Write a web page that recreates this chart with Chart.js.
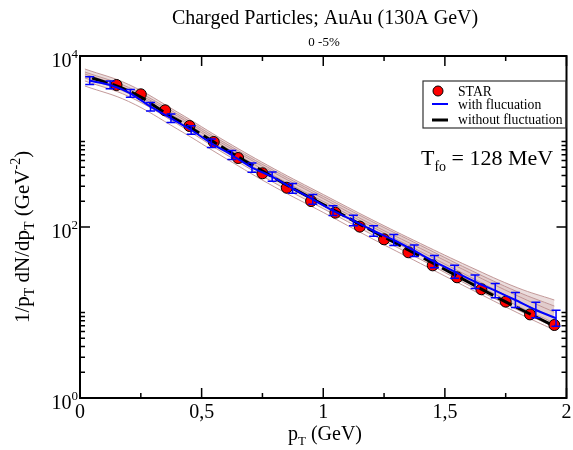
<!DOCTYPE html>
<html>
<head>
<meta charset="utf-8">
<script src="https://cdn.jsdelivr.net/npm/chart.js@4.4.1/dist/chart.umd.min.js"></script>
<style>
  html, body { margin: 0; padding: 0; background: #fff; }
  #wrap { width: 573px; height: 450px; }
</style>
</head>
<body>
<div id="wrap"><canvas id="c" width="573" height="450"></canvas></div>
<script>
// STAR charged particles, AuAu 130A GeV, 0-5%
const starPt = [0.15, 0.25, 0.35, 0.45, 0.55, 0.65, 0.75, 0.85, 0.95, 1.05,
  1.15, 1.25, 1.35, 1.45, 1.55, 1.65, 1.75, 1.85, 1.95];
const starVal = [4580, 3565, 2317, 1518, 987, 641, 425, 288, 201, 147,
  101, 71.8, 50.6, 35.6, 25.8, 18.7, 13.4, 9.5, 7.14];

// with fluctuation (blue, with error bars in %)
const flucPt = [0.04, 0.124, 0.207, 0.29, 0.374, 0.457, 0.54, 0.624, 0.707, 0.79,
  0.874, 0.957, 1.04, 1.124, 1.207, 1.29, 1.374, 1.457, 1.54, 1.624,
  1.707, 1.79, 1.874, 1.957];
const flucVal = [5140, 4580, 3660, 2553, 1868, 1363, 952, 695, 495, 388,
  283, 211, 155, 119, 89.8, 70.5, 52.8, 39.3, 30, 22.9,
  18, 14, 10.7, 8.55];
const flucErr = [11, 11, 11, 12, 12, 12, 12, 13, 13, 13,
  14, 14, 14, 15, 15, 16, 17, 18, 19, 20,
  21, 22, 23, 24];

// without fluctuation (black dashed)
const noFlucPt = [0.05, 0.15, 0.25, 0.35, 0.45, 0.55, 0.65, 0.75, 0.85, 0.95,
  1.05, 1.15, 1.25, 1.35, 1.45, 1.55, 1.65, 1.75, 1.85, 1.95];
const noFlucVal = [5530, 4457, 3315, 2154, 1478, 987, 659, 452, 310, 218,
  154, 108, 76.4, 53.8, 37.9, 26.7, 18.8, 13.3, 9.6, 6.95];

// event-by-event band (thin brown curves)
const bandPt = [0.02, 0.2, 0.4, 0.6, 0.8, 1.0, 1.2, 1.4, 1.6, 1.8, 1.95];
const bandA = [7047, 4645, 2213, 1000, 476, 240, 122, 64.1, 34.5, 19.4, 14.0];
const bandB = [6501, 4285, 2094, 946, 452, 228, 116, 60.8, 31.8, 17.4, 11.9];
const bandC = [6152, 4055, 1986, 897, 428, 215, 107, 56.1, 29.4, 15.6, 10.1];
const bandD = [5834, 3846, 1884, 849, 394, 199, 101, 51.6, 26.4, 13.6, 8.63];
const bandE = [5534, 3648, 1738, 783, 364, 183, 91.0, 46.5, 23.7, 11.9, 7.53];
const bandF = [5105, 3365, 1603, 705, 327, 164, 81.7, 41.7, 20.7, 10.7, 6.76];
const bandG = [4457, 2938, 1400, 632, 294, 148, 73.3, 37.4, 19.1, 9.89, 6.24];

// axes
const xMajor = [0, 0.5, 1, 1.5, 2];
const xMajorLabels = ["0", "0,5", "1", "1,5", "2"];
const xMinor = [0.25, 0.75, 1.25, 1.75];
const yMajor = [1, 100, 10000];
const yMajorExp = ["0", "2", "4"];
const yMinor = [2, 3, 4, 5, 6, 7, 8, 9, 10, 200, 300, 400, 500, 600, 700, 800, 900, 1000];

const SERIF = "'Liberation Serif', 'DejaVu Serif', serif";

function pts(xs, ys) {
  return xs.map((x, i) => ({ x: x, y: ys[i] }));
}

// draws text pieces with sub/superscripts on one baseline
function rich(ctx, pieces, x, y, align) {
  let w = 0;
  pieces.forEach(p => {
    ctx.font = p.size + "px " + SERIF;
    p.w = ctx.measureText(p.t).width;
    w += p.w;
  });
  let cx = x;
  if (align === "center") cx = x - w / 2;
  if (align === "right") cx = x - w;
  ctx.textAlign = "left";
  ctx.textBaseline = "alphabetic";
  pieces.forEach(p => {
    ctx.font = p.size + "px " + SERIF;
    ctx.fillText(p.t, cx, y + (p.dy || 0));
    cx += p.w;
  });
}

function band(values, fill, bg) {
  return {
    data: pts(bandPt, values),
    showLine: true,
    pointRadius: 0,
    borderColor: "rgba(188,143,143,0.9)",
    borderWidth: 1,
    tension: 0.4,
    order: 10,
    fill: fill,
    backgroundColor: bg || "transparent"
  };
}

const errorBars = {
  id: "errorBars",
  afterDatasetsDraw(chart) {
    const ctx = chart.ctx, xs = chart.scales.x, ys = chart.scales.y;
    ctx.save();
    ctx.strokeStyle = "#0000ff";
    ctx.lineWidth = 1.5;
    flucPt.forEach((x, i) => {
      const px = xs.getPixelForValue(x);
      const hi = ys.getPixelForValue(flucVal[i] * (1 + flucErr[i] / 100));
      const lo = ys.getPixelForValue(flucVal[i] / (1 + flucErr[i] / 100));
      ctx.beginPath();
      ctx.moveTo(px, hi); ctx.lineTo(px, lo);
      ctx.moveTo(px - 4.5, hi); ctx.lineTo(px + 4.5, hi);
      ctx.moveTo(px - 4.5, lo); ctx.lineTo(px + 4.5, lo);
      ctx.stroke();
    });
    ctx.restore();
  }
};

const frame = {
  id: "frame",
  afterDraw(chart) {
    const ctx = chart.ctx, a = chart.chartArea;
    const xs = chart.scales.x, ys = chart.scales.y;
    ctx.save();
    ctx.strokeStyle = "#000";
    ctx.fillStyle = "#000";

    // ticks, inward on all four sides
    ctx.lineWidth = 1.5;
    ctx.beginPath();
    const xt = (v, len) => {
      const p = xs.getPixelForValue(v);
      ctx.moveTo(p, a.bottom); ctx.lineTo(p, a.bottom - len);
      ctx.moveTo(p, a.top); ctx.lineTo(p, a.top + len);
    };
    const yt = (v, len) => {
      const p = ys.getPixelForValue(v);
      ctx.moveTo(a.left, p); ctx.lineTo(a.left + len, p);
      ctx.moveTo(a.right, p); ctx.lineTo(a.right - len, p);
    };
    xMajor.forEach(v => xt(v, 10));
    xMinor.forEach(v => xt(v, 5));
    yMajor.forEach(v => yt(v, 10));
    yMinor.forEach(v => yt(v, 5));
    ctx.stroke();

    ctx.lineWidth = 2;
    ctx.strokeRect(a.left, a.top, a.right - a.left, a.bottom - a.top);

    // tick labels
    ctx.font = "20px " + SERIF;
    ctx.textAlign = "center";
    ctx.textBaseline = "alphabetic";
    xMajor.forEach((v, i) => ctx.fillText(xMajorLabels[i], xs.getPixelForValue(v), a.bottom + 20));
    yMajor.forEach((v, i) => {
      const p = ys.getPixelForValue(v);
      rich(ctx, [{ t: "10", size: 20 }, { t: yMajorExp[i], size: 13, dy: -9 }], a.left - 2, p + 11, "right");
    });

    // titles
    rich(ctx, [{ t: "Charged Particles; AuAu (130A GeV)", size: 20 }], 325, 24, "center");
    rich(ctx, [{ t: "0 -5%", size: 13 }], 324, 46, "center");
    rich(ctx, [{ t: "p", size: 20 }, { t: "T", size: 13, dy: 5 }, { t: " (GeV)", size: 20 }], 325, 440, "center");

    ctx.save();
    ctx.translate(29, 237);
    ctx.rotate(-Math.PI / 2);
    rich(ctx, [{ t: "1/p", size: 21 }, { t: "T", size: 14, dy: 5 }, { t: " dN/dp", size: 21 },
      { t: "T", size: 14, dy: 5 }, { t: " (GeV", size: 21 }, { t: "-2", size: 14, dy: -9 },
      { t: ")", size: 21 }], 0, 0, "center");
    ctx.restore();

    rich(ctx, [{ t: "T", size: 22 }, { t: "fo", size: 14, dy: 6 }, { t: " = 128 MeV", size: 22 }], 421, 165, "left");

    // legend
    ctx.lineWidth = 1.2;
    ctx.strokeStyle = "#333";
    ctx.strokeRect(423, 81, 143, 47);
    ctx.beginPath();
    ctx.arc(438, 91, 5, 0, Math.PI * 2);
    ctx.fillStyle = "#ff0000";
    ctx.fill();
    ctx.strokeStyle = "#000";
    ctx.lineWidth = 1;
    ctx.stroke();
    ctx.lineWidth = 2;
    ctx.strokeStyle = "#0000ff";
    ctx.beginPath(); ctx.moveTo(432, 104); ctx.lineTo(448, 104); ctx.stroke();
    ctx.lineWidth = 3;
    ctx.strokeStyle = "#000";
    ctx.beginPath(); ctx.moveTo(432, 120); ctx.lineTo(448, 120); ctx.stroke();
    ctx.fillStyle = "#000";
    rich(ctx, [{ t: "STAR", size: 13.7 }], 458, 96, "left");
    rich(ctx, [{ t: "with flucuation", size: 13.7 }], 458, 109, "left");
    rich(ctx, [{ t: "without fluctuation", size: 13.7 }], 458, 124, "left");

    ctx.restore();
  }
};

new Chart(document.getElementById("c"), {
  type: "scatter",
  data: {
    datasets: [
      band(bandA, "+1", "rgba(188,143,143,0.3)"),
      band(bandB, "+3", "rgba(188,143,143,0.45)"),
      band(bandC, false),
      band(bandD, false),
      band(bandE, "+1", "rgba(188,143,143,0.22)"),
      band(bandF, false),
      band(bandG, false),
      {
        label: "STAR",
        data: pts(starPt, starVal),
        pointRadius: 5.5,
        backgroundColor: "#ff0000",
        borderColor: "#000",
        borderWidth: 1,
        showLine: false,
        order: 3
      },
      {
        label: "without fluctuation",
        data: pts(noFlucPt, noFlucVal),
        showLine: true,
        pointRadius: 0,
        borderColor: "#000",
        borderWidth: 3,
        borderDash: [16, 5],
        tension: 0.3,
        order: 2
      },
      {
        label: "with flucuation",
        data: pts(flucPt, flucVal),
        showLine: true,
        pointRadius: 0,
        borderColor: "#0000ff",
        borderWidth: 2,
        tension: 0.2,
        order: 1
      }
    ]
  },
  options: {
    responsive: false,
    animation: false,
    layout: { padding: { left: 80, right: 4, top: 56, bottom: 52 } },
    plugins: { legend: { display: false }, tooltip: { enabled: false } },
    scales: {
      x: { type: "linear", min: 0, max: 2, display: false },
      y: { type: "logarithmic", min: 1, max: 10000, display: false }
    }
  },
  plugins: [errorBars, frame]
});
</script>
</body>
</html>
